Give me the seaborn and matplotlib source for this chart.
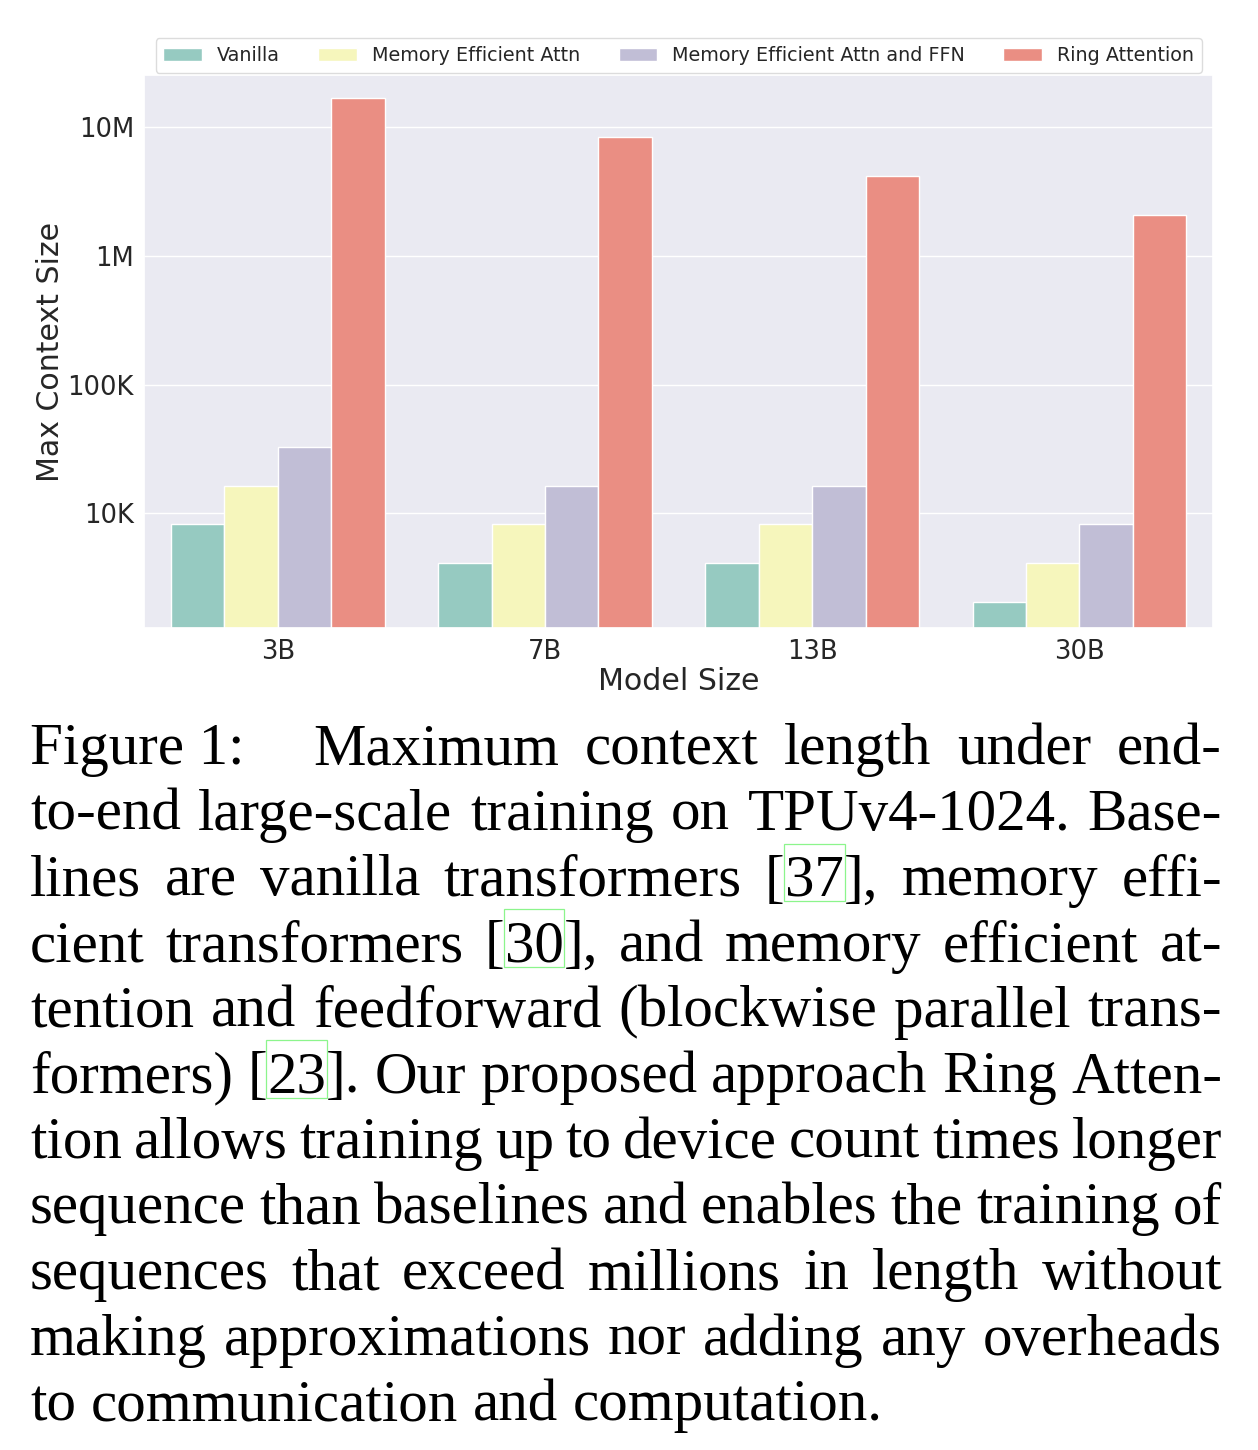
import re
import matplotlib
matplotlib.use("Agg")
import matplotlib.pyplot as plt
import seaborn as sns
import pandas as pd
from matplotlib.patches import Rectangle
from matplotlib.ticker import FixedLocator, NullLocator

# ---------------- data ----------------
model_sizes = ["3B", "7B", "13B", "30B"]
methods = ["Vanilla", "Memory Efficient Attn", "Memory Efficient Attn and FFN", "Ring Attention"]
vanilla = [8192, 4096, 4096, 2048]
mem_eff_attn = [16384, 8192, 8192, 4096]
mem_eff_attn_ffn = [32768, 16384, 16384, 8192]
ring_attention = [16777216, 8388608, 4194304, 2097152]
ytick_values = [1e4, 1e5, 1e6, 1e7]
ytick_labels = ["10K", "100K", "1M", "10M"]

caption_head = "Figure 1:"
caption_lines = [
    "Maximum context length under end-",
    "to-end large-scale training on TPUv4-1024. Base-",
    "lines are vanilla transformers [{37}], memory effi-",
    "cient transformers [{30}], and memory efficient at-",
    "tention and feedforward (blockwise parallel trans-",
    "formers) [{23}]. Our proposed approach Ring Atten-",
    "tion allows training up to device count times longer",
    "sequence than baselines and enables the training of",
    "sequences that exceed millions in length without",
    "making approximations nor adding any overheads",
    "to communication and computation.",
]

series = [vanilla, mem_eff_attn, mem_eff_attn_ffn, ring_attention]
rows = []
for m, vals in zip(methods, series):
    for s, v in zip(model_sizes, vals):
        rows.append({"Model Size": s, "Max Context Size": v, "Method": m})
df = pd.DataFrame(rows)

# ---------------- figure ----------------
sns.set_theme(style="darkgrid")
W, H = 1258, 1450
fig = plt.figure(figsize=(W / 100, H / 100), dpi=100)
ax = fig.add_axes([144.3 / W, 1 - 628.3 / H, (1213 - 144.3) / W, (628.3 - 74.7) / H])

sns.barplot(data=df, x="Model Size", y="Max Context Size", hue="Method",
            order=model_sizes, hue_order=methods, palette="Set3", ax=ax)
ax.set_yscale("log")
ax.set_ylim(1276, 2.56e7)
ax.yaxis.set_major_locator(FixedLocator(ytick_values))
ax.set_yticks(ytick_values, ytick_labels)
ax.yaxis.set_minor_locator(NullLocator())
ax.tick_params(axis="both", labelsize=18.6, pad=1.5)
ax.set_xlabel("Model Size", fontsize=21.6, labelpad=2)
ax.set_ylabel("Max Context Size", fontsize=21.6, labelpad=1.5)

leg = ax.legend(loc="lower center", bbox_to_anchor=(0.5, 1.0), ncol=4,
                fontsize=13.8, borderaxespad=0.1, frameon=True,
                facecolor="white", edgecolor="#dcdcdc", framealpha=1)

# ---------------- caption (justified) ----------------
serif = "Liberation Serif"
fs = 42.5
rend = fig.canvas.get_renderer()


def measure(s):
    t = fig.text(0, 0, s, fontsize=fs, family=serif)
    w = t.get_window_extent(rend).width
    t.remove()
    return w


space_w = measure("a a") - measure("aa")


def parse_word(word):
    segs = []
    for part in re.split(r"(\{[^}]*\})", word):
        if not part:
            continue
        if part.startswith("{"):
            segs.append((part[1:-1], True))
        else:
            segs.append((part, False))
    return segs


def draw_word(segs, x, baseline):
    for txt, boxed in segs:
        t = fig.text(x / W, 1 - baseline / H, txt, fontsize=fs, family=serif,
                     color="black", ha="left", va="baseline")
        w = t.get_window_extent(rend).width
        if boxed:
            fpx = fs * 100 / 72
            fig.patches.append(Rectangle(((x - 1) / W, 1 - (baseline + 0.1 * fpx) / H),
                                         (w + 2) / W, (fpx * 0.98) / H,
                                         transform=fig.transFigure, fill=False,
                                         edgecolor="#8cf58c", linewidth=0.9))
        x += w
    return x


left, right = 30.0, 1222.0
base0, step = 764.3, 65.6

# head of first line
draw_word([(caption_head, False)], left, base0)

for i, line in enumerate(caption_lines):
    baseline = base0 + i * step
    x0 = 313.0 if i == 0 else left
    words = [parse_word(w) for w in line.split(" ")]
    widths = [sum(measure(s) for s, _ in segs) for segs in words]
    if i == len(caption_lines) - 1:
        gap = space_w
    else:
        gap = (right - x0 - sum(widths)) / (len(words) - 1)
    x = x0
    for segs, w in zip(words, widths):
        draw_word(segs, x, baseline)
        x += w + gap

fig.savefig("out.png", dpi=100)
